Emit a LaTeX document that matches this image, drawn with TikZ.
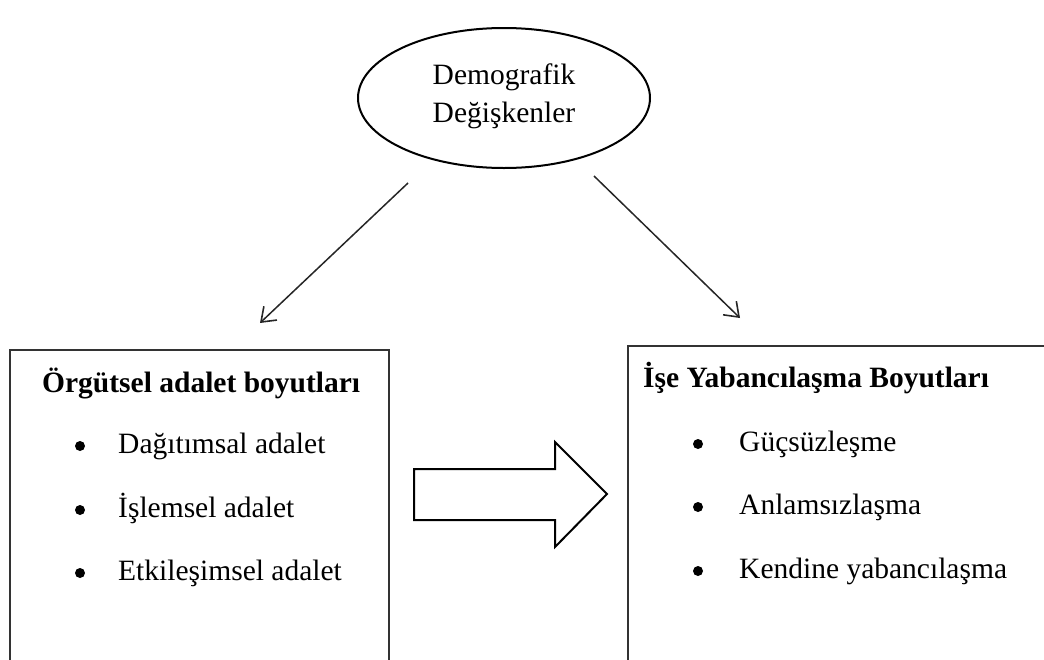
\documentclass[tikz,border=0pt]{standalone}
\usepackage{fontspec}
\setmainfont{Liberation Serif}
\usetikzlibrary{arrows.meta,shapes.geometric}
\begin{document}
\begin{tikzpicture}[x=1pt,y=-1pt,
  txt/.style={anchor=base west,inner sep=0pt,font=\fontsize{29.5}{35}\selectfont},
  ttl/.style={anchor=base west,inner sep=0pt,font=\fontsize{29.5}{35}\selectfont\bfseries},
  bul/.style={circle,fill=black,inner sep=0pt,minimum size=10pt},
  frame/.style={draw=black!80,line width=2pt},
  conn/.style={draw=black!85,line width=1.5pt,-{Straight Barb[length=13pt,width=19pt,line width=1.6pt]}}]
\useasboundingbox (0,0) rectangle (1044,659);
% ellipse
\node[draw,line width=2pt,ellipse,minimum width=292pt,minimum height=140pt,inner sep=0pt] (ell) at (504,98) {};
\node[anchor=base,inner sep=0pt,font=\fontsize{29.5}{35}\selectfont] (d1) at (504,84) {Demografik};
\node[anchor=base,inner sep=0pt,font=\fontsize{29.5}{35}\selectfont] (d2) at (504,122) {Değişkenler};
% arrows
\coordinate (la) at (408,183);
\coordinate (lb) at (260,323);
\coordinate (ra) at (594,176);
\coordinate (rb) at (740,318);
\draw[conn] (la) -- (lb);
\draw[conn] (ra) -- (rb);
% left box
\coordinate (lbox1) at (10,350);
\coordinate (lbox2) at (389,662);
\draw[frame] (lbox1) rectangle (lbox2);
\node[ttl] (lt) at (42,392) {Örgütsel adalet boyutları};
\node[bul] (lb1) at (80,446) {};
\node[txt] (l1) at (118,453) {Dağıtımsal adalet};
\node[bul] (lb2) at (80,510) {};
\node[txt] (l2) at (118,517) {İşlemsel adalet};
\node[bul] (lb3) at (80,573) {};
\node[txt] (l3) at (118,580) {Etkileşimsel adalet};
% right box
\coordinate (rbox1) at (628,346);
\coordinate (rbox2) at (1050,662);
\draw[frame] (rbox1) rectangle (rbox2);
\node[ttl] (rt) at (643,387) {İşe Yabancılaşma Boyutları};
\node[bul] (rb1) at (698,444) {};
\node[txt] (r1) at (739,451) {Güçsüzleşme};
\node[bul] (rb2) at (698,507) {};
\node[txt] (r2) at (739,514) {Anlamsızlaşma};
\node[bul] (rb3) at (698,571) {};
\node[txt] (r3) at (739,578) {Kendine yabancılaşma};
% big arrow
\draw[line width=2pt,line join=miter] (414,469) -- (555,469) -- (555,442) -- (607,494) -- (555,547) -- (555,520) -- (414,520) -- cycle;
\end{tikzpicture}
\end{document}
